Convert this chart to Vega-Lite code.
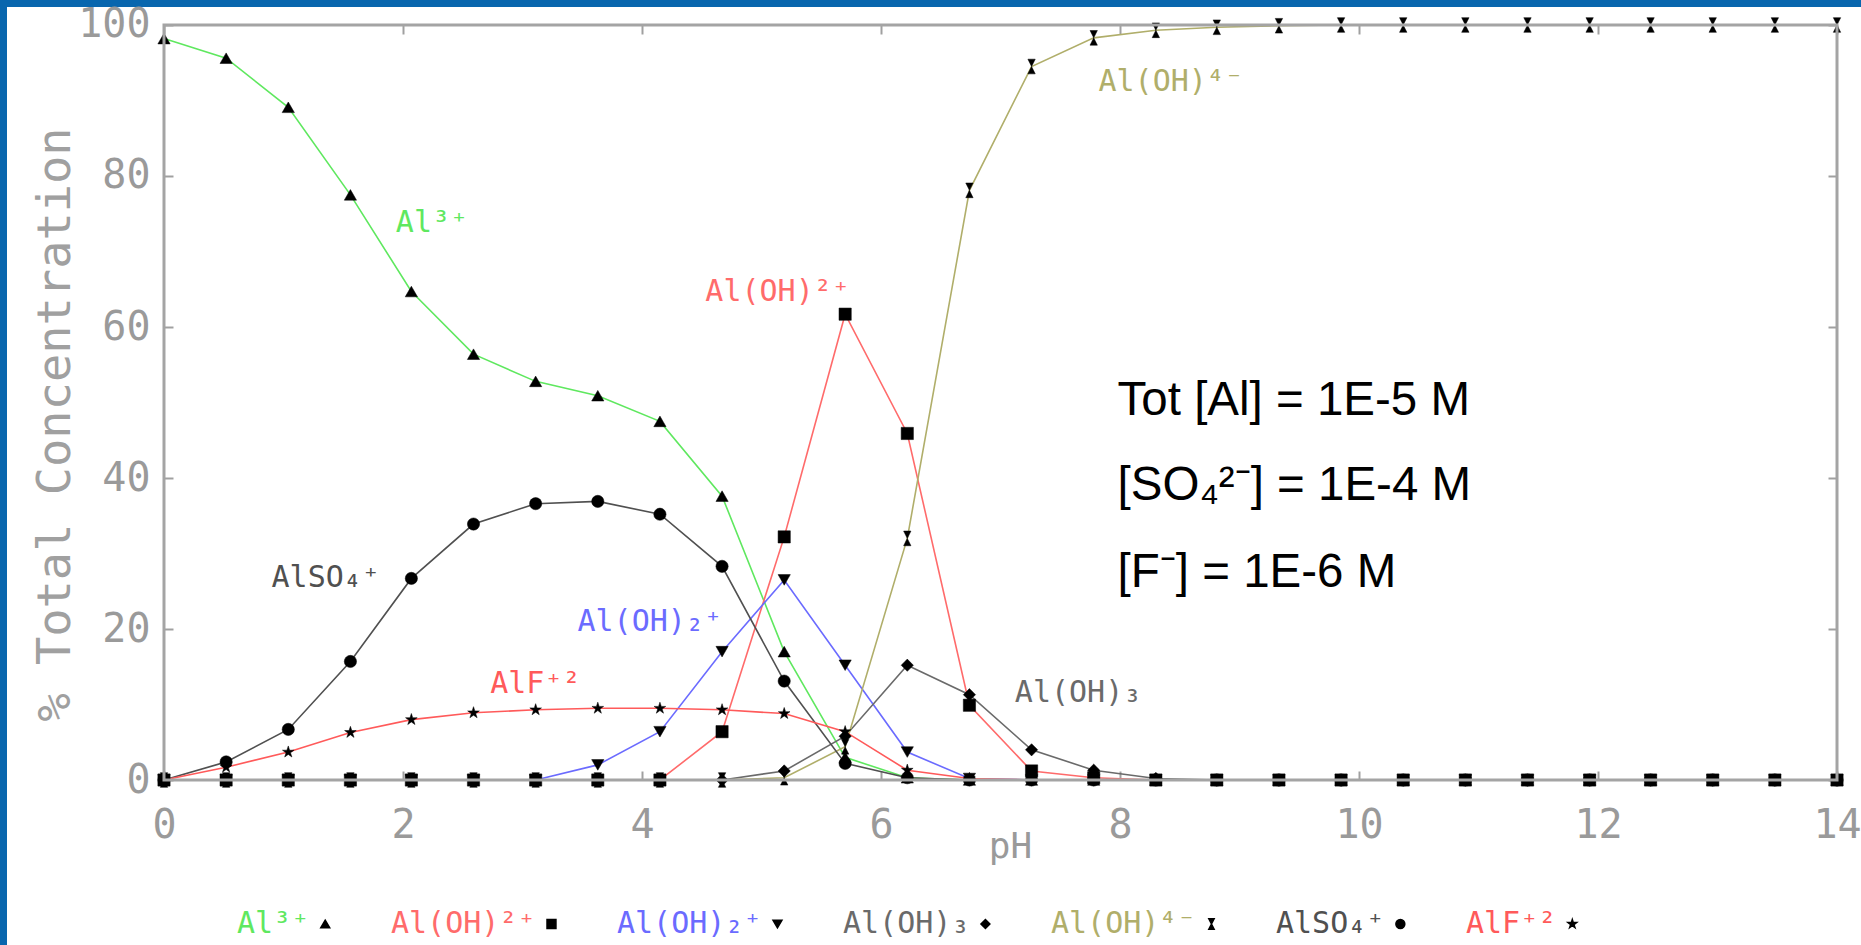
{
  "$schema": "https://vega.github.io/schema/vega-lite/v6.json",
  "width": 1854,
  "height": 938,
  "autosize": {"type": "none"},
  "padding": {"left": 7, "top": 7, "right": 0, "bottom": 0},
  "background": "#0866ae",
  "config": {"view": {"fill": "white", "stroke": null}, "font": "DejaVu Sans Mono"},
  "data": {"values": [
    {"pH":0,"species":"Al³⁺","pct":98.2},{"pH":0.52,"species":"Al³⁺","pct":95.6},{"pH":1.04,"species":"Al³⁺","pct":89.1},{"pH":1.56,"species":"Al³⁺","pct":77.5},{"pH":2.07,"species":"Al³⁺","pct":64.7},{"pH":2.59,"species":"Al³⁺","pct":56.4},{"pH":3.11,"species":"Al³⁺","pct":52.8},{"pH":3.63,"species":"Al³⁺","pct":50.9},{"pH":4.15,"species":"Al³⁺","pct":47.5},{"pH":4.67,"species":"Al³⁺","pct":37.6},{"pH":5.19,"species":"Al³⁺","pct":17.0},{"pH":5.7,"species":"Al³⁺","pct":3.0},{"pH":6.22,"species":"Al³⁺","pct":0.3},{"pH":6.74,"species":"Al³⁺","pct":0},{"pH":7.26,"species":"Al³⁺","pct":0},{"pH":7.78,"species":"Al³⁺","pct":0},{"pH":8.3,"species":"Al³⁺","pct":0},{"pH":8.81,"species":"Al³⁺","pct":0},{"pH":9.33,"species":"Al³⁺","pct":0},{"pH":9.85,"species":"Al³⁺","pct":0},{"pH":10.37,"species":"Al³⁺","pct":0},{"pH":10.89,"species":"Al³⁺","pct":0},{"pH":11.41,"species":"Al³⁺","pct":0},{"pH":11.93,"species":"Al³⁺","pct":0},{"pH":12.44,"species":"Al³⁺","pct":0},{"pH":12.96,"species":"Al³⁺","pct":0},{"pH":13.48,"species":"Al³⁺","pct":0},{"pH":14,"species":"Al³⁺","pct":0},
    {"pH":0,"species":"Al(OH)²⁺","pct":0},{"pH":0.52,"species":"Al(OH)²⁺","pct":0},{"pH":1.04,"species":"Al(OH)²⁺","pct":0},{"pH":1.56,"species":"Al(OH)²⁺","pct":0},{"pH":2.07,"species":"Al(OH)²⁺","pct":0},{"pH":2.59,"species":"Al(OH)²⁺","pct":0},{"pH":3.11,"species":"Al(OH)²⁺","pct":0},{"pH":3.63,"species":"Al(OH)²⁺","pct":0},{"pH":4.15,"species":"Al(OH)²⁺","pct":0},{"pH":4.67,"species":"Al(OH)²⁺","pct":6.4},{"pH":5.19,"species":"Al(OH)²⁺","pct":32.2},{"pH":5.7,"species":"Al(OH)²⁺","pct":61.7},{"pH":6.22,"species":"Al(OH)²⁺","pct":45.9},{"pH":6.74,"species":"Al(OH)²⁺","pct":9.9},{"pH":7.26,"species":"Al(OH)²⁺","pct":1.2},{"pH":7.78,"species":"Al(OH)²⁺","pct":0.3},{"pH":8.3,"species":"Al(OH)²⁺","pct":0},{"pH":8.81,"species":"Al(OH)²⁺","pct":0},{"pH":9.33,"species":"Al(OH)²⁺","pct":0},{"pH":9.85,"species":"Al(OH)²⁺","pct":0},{"pH":10.37,"species":"Al(OH)²⁺","pct":0},{"pH":10.89,"species":"Al(OH)²⁺","pct":0},{"pH":11.41,"species":"Al(OH)²⁺","pct":0},{"pH":11.93,"species":"Al(OH)²⁺","pct":0},{"pH":12.44,"species":"Al(OH)²⁺","pct":0},{"pH":12.96,"species":"Al(OH)²⁺","pct":0},{"pH":13.48,"species":"Al(OH)²⁺","pct":0},{"pH":14,"species":"Al(OH)²⁺","pct":0},
    {"pH":0,"species":"Al(OH)₂⁺","pct":0},{"pH":0.52,"species":"Al(OH)₂⁺","pct":0},{"pH":1.04,"species":"Al(OH)₂⁺","pct":0},{"pH":1.56,"species":"Al(OH)₂⁺","pct":0},{"pH":2.07,"species":"Al(OH)₂⁺","pct":0},{"pH":2.59,"species":"Al(OH)₂⁺","pct":0},{"pH":3.11,"species":"Al(OH)₂⁺","pct":0},{"pH":3.63,"species":"Al(OH)₂⁺","pct":2.0},{"pH":4.15,"species":"Al(OH)₂⁺","pct":6.4},{"pH":4.67,"species":"Al(OH)₂⁺","pct":17.0},{"pH":5.19,"species":"Al(OH)₂⁺","pct":26.5},{"pH":5.7,"species":"Al(OH)₂⁺","pct":15.2},{"pH":6.22,"species":"Al(OH)₂⁺","pct":3.7},{"pH":6.74,"species":"Al(OH)₂⁺","pct":0.2},{"pH":7.26,"species":"Al(OH)₂⁺","pct":0},{"pH":7.78,"species":"Al(OH)₂⁺","pct":0},{"pH":8.3,"species":"Al(OH)₂⁺","pct":0},{"pH":8.81,"species":"Al(OH)₂⁺","pct":0},{"pH":9.33,"species":"Al(OH)₂⁺","pct":0},{"pH":9.85,"species":"Al(OH)₂⁺","pct":0},{"pH":10.37,"species":"Al(OH)₂⁺","pct":0},{"pH":10.89,"species":"Al(OH)₂⁺","pct":0},{"pH":11.41,"species":"Al(OH)₂⁺","pct":0},{"pH":11.93,"species":"Al(OH)₂⁺","pct":0},{"pH":12.44,"species":"Al(OH)₂⁺","pct":0},{"pH":12.96,"species":"Al(OH)₂⁺","pct":0},{"pH":13.48,"species":"Al(OH)₂⁺","pct":0},{"pH":14,"species":"Al(OH)₂⁺","pct":0},
    {"pH":0,"species":"Al(OH)₃","pct":0},{"pH":0.52,"species":"Al(OH)₃","pct":0},{"pH":1.04,"species":"Al(OH)₃","pct":0},{"pH":1.56,"species":"Al(OH)₃","pct":0},{"pH":2.07,"species":"Al(OH)₃","pct":0},{"pH":2.59,"species":"Al(OH)₃","pct":0},{"pH":3.11,"species":"Al(OH)₃","pct":0},{"pH":3.63,"species":"Al(OH)₃","pct":0},{"pH":4.15,"species":"Al(OH)₃","pct":0},{"pH":4.67,"species":"Al(OH)₃","pct":0},{"pH":5.19,"species":"Al(OH)₃","pct":1.2},{"pH":5.7,"species":"Al(OH)₃","pct":5.8},{"pH":6.22,"species":"Al(OH)₃","pct":15.2},{"pH":6.74,"species":"Al(OH)₃","pct":11.3},{"pH":7.26,"species":"Al(OH)₃","pct":4.0},{"pH":7.78,"species":"Al(OH)₃","pct":1.3},{"pH":8.3,"species":"Al(OH)₃","pct":0.2},{"pH":8.81,"species":"Al(OH)₃","pct":0},{"pH":9.33,"species":"Al(OH)₃","pct":0},{"pH":9.85,"species":"Al(OH)₃","pct":0},{"pH":10.37,"species":"Al(OH)₃","pct":0},{"pH":10.89,"species":"Al(OH)₃","pct":0},{"pH":11.41,"species":"Al(OH)₃","pct":0},{"pH":11.93,"species":"Al(OH)₃","pct":0},{"pH":12.44,"species":"Al(OH)₃","pct":0},{"pH":12.96,"species":"Al(OH)₃","pct":0},{"pH":13.48,"species":"Al(OH)₃","pct":0},{"pH":14,"species":"Al(OH)₃","pct":0},
    {"pH":0,"species":"Al(OH)⁴⁻","pct":0},{"pH":0.52,"species":"Al(OH)⁴⁻","pct":0},{"pH":1.04,"species":"Al(OH)⁴⁻","pct":0},{"pH":1.56,"species":"Al(OH)⁴⁻","pct":0},{"pH":2.07,"species":"Al(OH)⁴⁻","pct":0},{"pH":2.59,"species":"Al(OH)⁴⁻","pct":0},{"pH":3.11,"species":"Al(OH)⁴⁻","pct":0},{"pH":3.63,"species":"Al(OH)⁴⁻","pct":0},{"pH":4.15,"species":"Al(OH)⁴⁻","pct":0},{"pH":4.67,"species":"Al(OH)⁴⁻","pct":0},{"pH":5.19,"species":"Al(OH)⁴⁻","pct":0.3},{"pH":5.7,"species":"Al(OH)⁴⁻","pct":4.4},{"pH":6.22,"species":"Al(OH)⁴⁻","pct":32.0},{"pH":6.74,"species":"Al(OH)⁴⁻","pct":78.1},{"pH":7.26,"species":"Al(OH)⁴⁻","pct":94.5},{"pH":7.78,"species":"Al(OH)⁴⁻","pct":98.3},{"pH":8.3,"species":"Al(OH)⁴⁻","pct":99.3},{"pH":8.81,"species":"Al(OH)⁴⁻","pct":99.7},{"pH":9.33,"species":"Al(OH)⁴⁻","pct":99.9},{"pH":9.85,"species":"Al(OH)⁴⁻","pct":100},{"pH":10.37,"species":"Al(OH)⁴⁻","pct":100},{"pH":10.89,"species":"Al(OH)⁴⁻","pct":100},{"pH":11.41,"species":"Al(OH)⁴⁻","pct":100},{"pH":11.93,"species":"Al(OH)⁴⁻","pct":100},{"pH":12.44,"species":"Al(OH)⁴⁻","pct":100},{"pH":12.96,"species":"Al(OH)⁴⁻","pct":100},{"pH":13.48,"species":"Al(OH)⁴⁻","pct":100},{"pH":14,"species":"Al(OH)⁴⁻","pct":100},
    {"pH":0,"species":"AlSO₄⁺","pct":0},{"pH":0.52,"species":"AlSO₄⁺","pct":2.4},{"pH":1.04,"species":"AlSO₄⁺","pct":6.7},{"pH":1.56,"species":"AlSO₄⁺","pct":15.7},{"pH":2.07,"species":"AlSO₄⁺","pct":26.7},{"pH":2.59,"species":"AlSO₄⁺","pct":33.9},{"pH":3.11,"species":"AlSO₄⁺","pct":36.6},{"pH":3.63,"species":"AlSO₄⁺","pct":36.9},{"pH":4.15,"species":"AlSO₄⁺","pct":35.2},{"pH":4.67,"species":"AlSO₄⁺","pct":28.3},{"pH":5.19,"species":"AlSO₄⁺","pct":13.1},{"pH":5.7,"species":"AlSO₄⁺","pct":2.2},{"pH":6.22,"species":"AlSO₄⁺","pct":0.3},{"pH":6.74,"species":"AlSO₄⁺","pct":0},{"pH":7.26,"species":"AlSO₄⁺","pct":0},{"pH":7.78,"species":"AlSO₄⁺","pct":0},{"pH":8.3,"species":"AlSO₄⁺","pct":0},{"pH":8.81,"species":"AlSO₄⁺","pct":0},{"pH":9.33,"species":"AlSO₄⁺","pct":0},{"pH":9.85,"species":"AlSO₄⁺","pct":0},{"pH":10.37,"species":"AlSO₄⁺","pct":0},{"pH":10.89,"species":"AlSO₄⁺","pct":0},{"pH":11.41,"species":"AlSO₄⁺","pct":0},{"pH":11.93,"species":"AlSO₄⁺","pct":0},{"pH":12.44,"species":"AlSO₄⁺","pct":0},{"pH":12.96,"species":"AlSO₄⁺","pct":0},{"pH":13.48,"species":"AlSO₄⁺","pct":0},{"pH":14,"species":"AlSO₄⁺","pct":0},
    {"pH":0,"species":"AlF⁺²","pct":0},{"pH":0.52,"species":"AlF⁺²","pct":1.7},{"pH":1.04,"species":"AlF⁺²","pct":3.7},{"pH":1.56,"species":"AlF⁺²","pct":6.3},{"pH":2.07,"species":"AlF⁺²","pct":8.0},{"pH":2.59,"species":"AlF⁺²","pct":8.9},{"pH":3.11,"species":"AlF⁺²","pct":9.3},{"pH":3.63,"species":"AlF⁺²","pct":9.5},{"pH":4.15,"species":"AlF⁺²","pct":9.5},{"pH":4.67,"species":"AlF⁺²","pct":9.3},{"pH":5.19,"species":"AlF⁺²","pct":8.8},{"pH":5.7,"species":"AlF⁺²","pct":6.4},{"pH":6.22,"species":"AlF⁺²","pct":1.3},{"pH":6.74,"species":"AlF⁺²","pct":0.2},{"pH":7.26,"species":"AlF⁺²","pct":0},{"pH":7.78,"species":"AlF⁺²","pct":0},{"pH":8.3,"species":"AlF⁺²","pct":0},{"pH":8.81,"species":"AlF⁺²","pct":0},{"pH":9.33,"species":"AlF⁺²","pct":0},{"pH":9.85,"species":"AlF⁺²","pct":0},{"pH":10.37,"species":"AlF⁺²","pct":0},{"pH":10.89,"species":"AlF⁺²","pct":0},{"pH":11.41,"species":"AlF⁺²","pct":0},{"pH":11.93,"species":"AlF⁺²","pct":0},{"pH":12.44,"species":"AlF⁺²","pct":0},{"pH":12.96,"species":"AlF⁺²","pct":0},{"pH":13.48,"species":"AlF⁺²","pct":0},{"pH":14,"species":"AlF⁺²","pct":0}
  ]},
  "layer": [
    {
      "mark": {"type": "line", "strokeWidth": 1.6},
      "encoding": {
        "x": {"field": "pH", "type": "quantitative",
          "scale": {"domain": [-1.3138, 14.2008], "nice": false, "zero": false},
          "axis": {"orient": "bottom", "offset": -165, "values": [0, 2, 4, 6, 8, 10, 12, 14], "format": "d",
            "domain": false, "ticks": false, "tickSize": 0, "grid": false,
            "labelFont": "DejaVu Sans Mono", "labelFontSize": 40, "labelColor": "#9a9a9a", "labelPadding": 57,
            "labelBaseline": "alphabetic", "labelFlush": false, "labelOverlap": false,
            "title": "pH", "titleFont": "DejaVu Sans Mono", "titleFontSize": 36, "titleFontWeight": "normal",
            "titleColor": "#9a9a9a", "titleX": 1003, "titleY": 77, "titleBaseline": "alphabetic", "titleAlign": "center"}},
        "y": {"field": "pct", "type": "quantitative",
          "scale": {"domain": [-21.854, 102.384], "nice": false, "zero": false},
          "axis": {"orient": "left", "offset": -157, "values": [0, 20, 40, 60, 80, 100], "format": "d",
            "domain": false, "ticks": false, "tickSize": 0, "grid": false,
            "labelFont": "DejaVu Sans Mono", "labelFontSize": 40, "labelColor": "#9a9a9a", "labelPadding": 14,
            "labelFlush": false, "labelOverlap": false,
            "title": "% Total Concentration", "titleFont": "DejaVu Sans Mono", "titleFontSize": 47, "titleFontWeight": "normal",
            "titleColor": "#a0a0a0", "titleX": -95, "titleY": 417, "titleAngle": 270, "titleBaseline": "alphabetic", "titleAlign": "center"}},
        "color": {"field": "species", "type": "nominal",
          "scale": {"domain": ["AlF⁺²", "AlSO₄⁺", "Al(OH)⁴⁻", "Al(OH)₃", "Al(OH)₂⁺", "Al(OH)²⁺", "Al³⁺"],
                    "range": ["#ff5a5a", "#505050", "#b0ae6a", "#6a6a6a", "#6b6bff", "#ff6b6b", "#5fe85f"]},
          "legend": null}
      }
    },
    {
      "mark": {"type": "point", "filled": true, "fill": "black", "stroke": "black", "strokeWidth": 0.5, "opacity": 1, "size": 150},
      "encoding": {
        "x": {"field": "pH", "type": "quantitative",
          "scale": {"domain": [-1.3138, 14.2008], "nice": false, "zero": false},
          "axis": {"orient": "top", "offset": -773, "values": [0, 2, 4, 6, 8, 10, 12, 14], "labels": false,
            "domain": false, "ticks": true, "tickSize": 9, "tickWidth": 2, "tickColor": "#a0a0a0", "grid": false, "title": null}},
        "y": {"field": "pct", "type": "quantitative",
          "scale": {"domain": [-21.854, 102.384], "nice": false, "zero": false},
          "axis": {"orient": "right", "offset": -1697, "values": [0, 20, 40, 60, 80, 100], "labels": false,
            "domain": false, "ticks": true, "tickSize": 9, "tickWidth": 2, "tickColor": "#a0a0a0", "grid": false, "title": null}},
        "shape": {"field": "species", "type": "nominal",
          "scale": {"domain": ["Al³⁺", "Al(OH)²⁺", "Al(OH)₂⁺", "Al(OH)₃", "Al(OH)⁴⁻", "AlSO₄⁺", "AlF⁺²"],
                    "range": ["triangle-up", "square", "triangle-down", "diamond",
                              "M-0.6,-1.2L0.6,-1.2L0,0L0.6,1.2L-0.6,1.2L0,0Z", "circle",
                              "M0,-1L0.2245,-0.309L0.9511,-0.309L0.3633,0.118L0.5878,0.809L0,0.382L-0.5878,0.809L-0.3633,0.118L-0.9511,-0.309L-0.2245,-0.309Z"]},
          "legend": {"orient": "none", "legendX": 230, "legendY": 902, "direction": "horizontal", "title": null,
            "padding": 0, "columnPadding": 58, "symbolSize": 80, "symbolFillColor": "black", "symbolStrokeColor": "black",
            "labelFont": "DejaVu Sans Mono", "labelFontSize": 30, "labelLimit": 500,
            "encoding": {
              "labels": {"x": {"value": 0}, "fill": {"value": {"expr": "scale('color', datum.value)"}}},
              "symbols": {"x": {"value": {"expr": "length(datum.label) * 18.06 + 16"}}, "fill": {"value": "black"}, "stroke": {"value": "black"}}
            }}}
      }
    },
    {
      "data": {"values": [{}]},
      "mark": {"type": "rect", "fill": "white", "fillOpacity": 0, "stroke": "#a4a4a4", "strokeWidth": 3},
      "encoding": {
        "x": {"datum": 0, "type": "quantitative",
          "scale": {"domain": [-1.3138, 14.2008], "nice": false, "zero": false},
          "axis": {"orient": "bottom", "offset": -920, "values": [0, 2, 4, 6, 8, 10, 12, 14], "labels": false,
            "domain": false, "ticks": true, "tickSize": 9, "tickWidth": 2, "tickColor": "#a0a0a0", "grid": false, "title": null}},
        "x2": {"datum": 14},
        "y": {"datum": 0, "type": "quantitative",
          "scale": {"domain": [-21.854, 102.384], "nice": false, "zero": false},
          "axis": {"orient": "left", "offset": -1830, "values": [0, 20, 40, 60, 80, 100], "labels": false,
            "domain": false, "ticks": true, "tickSize": 9, "tickWidth": 2, "tickColor": "#a0a0a0", "grid": false, "title": null}},
        "y2": {"datum": 100}
      }
    },
    {
      "data": {"values": [
        {"species": "Al³⁺", "pH": 1.94, "pct": 72.6},
        {"species": "Al(OH)²⁺", "pH": 4.53, "pct": 63.4},
        {"species": "Al(OH)₂⁺", "pH": 3.46, "pct": 19.7},
        {"species": "Al(OH)₃", "pH": 7.12, "pct": 10.3},
        {"species": "Al(OH)⁴⁻", "pH": 7.82, "pct": 91.3},
        {"species": "AlSO₄⁺", "pH": 0.9, "pct": 25.5},
        {"species": "AlF⁺²", "pH": 2.73, "pct": 11.5}
      ]},
      "mark": {"type": "text", "align": "left", "baseline": "alphabetic", "font": "DejaVu Sans Mono", "fontSize": 30},
      "encoding": {
        "x": {"field": "pH", "type": "quantitative", "scale": {"domain": [-1.3138, 14.2008], "nice": false, "zero": false}, "axis": null},
        "y": {"field": "pct", "type": "quantitative", "scale": {"domain": [-21.854, 102.384], "nice": false, "zero": false}, "axis": null},
        "text": {"field": "species"},
        "color": {"field": "species", "type": "nominal",
          "scale": {"domain": ["AlF⁺²", "AlSO₄⁺", "Al(OH)⁴⁻", "Al(OH)₃", "Al(OH)₂⁺", "Al(OH)²⁺", "Al³⁺"],
                    "range": ["#ff5a5a", "#505050", "#b0ae6a", "#6a6a6a", "#6b6bff", "#ff6b6b", "#5fe85f"]},
          "legend": null}
      }
    },
    {
      "data": {"values": [
        {"note": "Tot [Al] = 1E-5 M", "pH": 7.98, "pct": 48.3},
        {"note": "[SO₄²⁻] = 1E-4 M", "pH": 7.98, "pct": 37.1},
        {"note": "[F⁻] = 1E-6 M", "pH": 7.98, "pct": 25.6}
      ]},
      "mark": {"type": "text", "align": "left", "baseline": "alphabetic", "font": "Liberation Sans", "fontSize": 47.5, "color": "black"},
      "encoding": {
        "x": {"field": "pH", "type": "quantitative", "scale": {"domain": [-1.3138, 14.2008], "nice": false, "zero": false}, "axis": null},
        "y": {"field": "pct", "type": "quantitative", "scale": {"domain": [-21.854, 102.384], "nice": false, "zero": false}, "axis": null},
        "text": {"field": "note"}
      }
    }
  ],
  "resolve": {"axis": {"x": "independent", "y": "independent"}}
}
